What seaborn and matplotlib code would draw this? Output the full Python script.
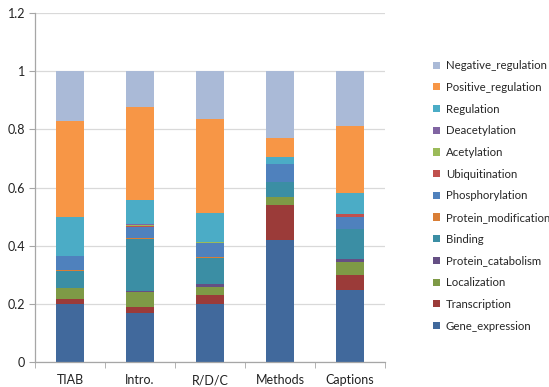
import matplotlib
matplotlib.use("Agg")
import matplotlib.pyplot as plt
from matplotlib.patches import Patch
import numpy as np
import pandas as pd
import seaborn as sns

sections = ["TIAB", "Intro.", "R/D/C", "Methods", "Captions"]

# Event-type shares per article section (bottom of stack first)
gene_expression     = [0.198, 0.167, 0.198, 0.419, 0.247]
transcription       = [0.018, 0.021, 0.032, 0.121, 0.052]
localization        = [0.038, 0.052, 0.029, 0.027, 0.046]
protein_catabolism  = [0.000, 0.004, 0.008, 0.000, 0.009]
binding             = [0.058, 0.178, 0.091, 0.052, 0.102]
protein_modification= [0.003, 0.003, 0.002, 0.000, 0.001]
phosphorylation     = [0.050, 0.040, 0.049, 0.062, 0.040]
ubiquitination      = [0.000, 0.001, 0.001, 0.000, 0.013]
acetylation         = [0.000, 0.004, 0.001, 0.000, 0.000]
deacetylation       = [0.000, 0.004, 0.003, 0.000, 0.000]
regulation          = [0.134, 0.084, 0.097, 0.023, 0.072]
positive_regulation = [0.329, 0.318, 0.323, 0.066, 0.229]
negative_regulation = [0.172, 0.124, 0.166, 0.230, 0.189]

series_names = ["Gene_expression", "Transcription", "Localization",
                "Protein_catabolism", "Binding", "Protein_modification",
                "Phosphorylation", "Ubiquitination", "Acetylation",
                "Deacetylation", "Regulation", "Positive_regulation",
                "Negative_regulation"]
series_values = [gene_expression, transcription, localization,
                 protein_catabolism, binding, protein_modification,
                 phosphorylation, ubiquitination, acetylation,
                 deacetylation, regulation, positive_regulation,
                 negative_regulation]
colors = ["#41699C", "#9B3B39", "#7E9A46", "#654F84", "#3B8EA4", "#D97E36",
          "#4F81BD", "#C0504D", "#9BBB59", "#8064A2", "#4BACC6", "#F79646",
          "#AABAD7"]

df = pd.DataFrame(dict(zip(series_names, series_values)), index=sections)
cum = df.cumsum(axis=1)

sns.set_style("white")
plt.rcParams["font.family"] = ["Lato", "DejaVu Sans"]

fig = plt.figure(figsize=(5.49, 3.87), dpi=100)
ax = fig.add_axes([0.0638, 0.0646, 0.6375, 0.9018])

# Draw cumulative totals from the top series down so each lower layer overlays
for name, col in zip(reversed(series_names), reversed(colors)):
    data = pd.DataFrame({"section": sections, "value": cum[name].values})
    sns.barplot(data=data, x="section", y="value", color=col, width=0.4,
                saturation=1, ax=ax, linewidth=0, edgecolor="none",
                order=sections)

ax.set_ylim(0, 1.2)
ax.set_xlim(-0.5, len(sections) - 0.5)
ax.set_yticks(np.arange(0, 1.21, 0.2))
ax.set_yticklabels(["0", "0.2", "0.4", "0.6", "0.8", "1", "1.2"])
ax.set_xlabel("")
ax.set_ylabel("")
ax.yaxis.grid(True, color="#D9D9D9", linewidth=0.9)
ax.set_axisbelow(True)

for s in ["top", "right"]:
    ax.spines[s].set_visible(False)
for s in ["left", "bottom"]:
    ax.spines[s].set_color("#A6A6A6")
    ax.spines[s].set_linewidth(0.9)

ax.tick_params(axis="y", length=4, color="#A6A6A6", labelsize=9,
               labelcolor="#222222", left=True, pad=3)
ax.tick_params(axis="x", length=0, labelsize=9, labelcolor="#222222", pad=9)
ax.set_xticks(np.arange(-0.5, len(sections), 1.0), minor=True)
ax.tick_params(axis="x", which="minor", length=4, color="#A6A6A6", bottom=True)

handles = [Patch(facecolor=c, edgecolor="none", label=n)
           for n, c in zip(reversed(series_names), reversed(colors))]
ax.legend(handles=handles, loc="upper left", bbox_to_anchor=(1.125, 0.878),
          frameon=False, fontsize=8.2, handlelength=0.6, handleheight=0.6,
          handletextpad=0.5, labelspacing=0.94, borderaxespad=0)

fig.savefig("out.png", dpi=100)
